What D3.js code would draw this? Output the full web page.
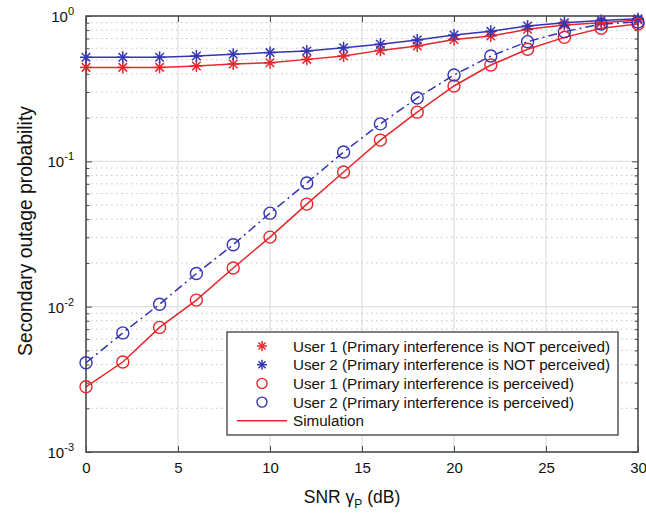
<!DOCTYPE html>
<html>
<head>
<meta charset="utf-8">
<script src="https://cdn.jsdelivr.net/npm/d3@7"></script>
<style>
  html, body { margin: 0; padding: 0; background: #fff; }
  svg { display: block; font-family: "Liberation Sans", Arial, sans-serif; }
</style>
</head>
<body>
<svg id="chart" width="646" height="513"></svg>
<script>
// SNR grid (dB)
const snr = [0, 2, 4, 6, 8, 10, 12, 14, 16, 18, 20, 22, 24, 26, 28, 30];

// Secondary outage probability per user / scenario
const user1NotPerceived = [0.443, 0.443, 0.443, 0.453, 0.468, 0.477, 0.503, 0.531, 0.58, 0.622, 0.69, 0.728, 0.81, 0.867, 0.90, 0.94];
const user2NotPerceived = [0.52, 0.52, 0.52, 0.53, 0.545, 0.56, 0.574, 0.605, 0.64, 0.684, 0.74, 0.785, 0.853, 0.90, 0.93, 0.958];
const user1Perceived = [0.00281, 0.00416, 0.0072, 0.0111, 0.01845, 0.0301, 0.0508, 0.0844, 0.140, 0.218, 0.33, 0.46, 0.59, 0.713, 0.823, 0.88];
const user2Perceived = [0.00411, 0.0066, 0.0104, 0.0169, 0.0267, 0.044, 0.071, 0.116, 0.181, 0.273, 0.393, 0.53, 0.666, 0.78, 0.88, 0.91];

const xTicks = [0, 5, 10, 15, 20, 25, 30];
const yDecades = [-3, -2, -1, 0];

const legendLabels = [
  "User 1 (Primary interference is NOT perceived)",
  "User 2 (Primary interference is NOT perceived)",
  "User 1 (Primary interference is perceived)",
  "User 2 (Primary interference is perceived)",
  "Simulation"
];

const RED = "#e8262b";
const BLUE = "#3434b4";

const svg = d3.select("#chart");
const margin = { left: 86, top: 16, right: 8, bottom: 61 };
const W = 646, H = 513;
const iw = W - margin.left - margin.right;
const ih = H - margin.top - margin.bottom;

const x = d3.scaleLinear().domain([0, 30]).range([0, iw]);
const y = d3.scaleLog().domain([1e-3, 1]).range([ih, 0]);

const g = svg.append("g").attr("transform", `translate(${margin.left},${margin.top})`);

// minor values inside each decade
const minors = [];
for (let e = -3; e < 0; e++) for (let k = 2; k <= 9; k++) minors.push(k * Math.pow(10, e));

// grid
const grid = g.append("g");
grid.selectAll(".vg").data(xTicks.slice(1, -1)).join("line")
  .attr("x1", d => x(d)).attr("x2", d => x(d)).attr("y1", 0).attr("y2", ih)
  .attr("stroke", "#d9d9d9").attr("stroke-width", 1);
grid.selectAll(".hm").data(minors).join("line")
  .attr("x1", 0).attr("x2", iw).attr("y1", d => y(d)).attr("y2", d => y(d))
  .attr("stroke", "#c4c4c4").attr("stroke-width", 1).attr("stroke-dasharray", "1.5,3.5");
grid.selectAll(".hM").data(yDecades.slice(1, -1)).join("line")
  .attr("x1", 0).attr("x2", iw).attr("y1", d => y(Math.pow(10, d))).attr("y2", d => y(Math.pow(10, d)))
  .attr("stroke", "#d9d9d9").attr("stroke-width", 1);

// axes (inner ticks on all four sides)
const axisColor = "#4a4a4a";
const axB = d3.axisBottom(x).tickValues(xTicks).tickSizeInner(-6).tickSizeOuter(0).tickPadding(10);
const axT = d3.axisTop(x).tickValues(xTicks).tickSizeInner(-6).tickSizeOuter(0).tickFormat("");
const yMajorVals = yDecades.map(e => Math.pow(10, e));
const axL = d3.axisLeft(y).tickValues(yMajorVals).tickSizeInner(-6).tickSizeOuter(0).tickFormat("");
const axR = d3.axisRight(y).tickValues(yMajorVals).tickSizeInner(-6).tickSizeOuter(0).tickFormat("");
const axLm = d3.axisLeft(y).tickValues(minors).tickSizeInner(-3.5).tickSizeOuter(0).tickFormat("");
const axRm = d3.axisRight(y).tickValues(minors).tickSizeInner(-3.5).tickSizeOuter(0).tickFormat("");

function style(sel) {
  sel.select(".domain").remove();
  sel.selectAll("line").attr("stroke", axisColor).attr("stroke-width", 1);
  sel.selectAll("text").attr("fill", "#111").attr("font-size", 15).attr("font-family", "Liberation Sans, Arial, sans-serif");
}
g.append("g").attr("transform", `translate(0,${ih})`).call(axB).call(style);
g.append("g").call(axT).call(style);
g.append("g").call(axL).call(style);
g.append("g").attr("transform", `translate(${iw},0)`).call(axR).call(style);
g.append("g").call(axLm).call(style);
g.append("g").attr("transform", `translate(${iw},0)`).call(axRm).call(style);

// box
g.append("rect").attr("x", 0).attr("y", 0).attr("width", iw).attr("height", ih)
  .attr("fill", "none").attr("stroke", axisColor).attr("stroke-width", 1.6);

// y tick labels with superscript exponents
const yl = g.append("g").selectAll("text").data(yDecades).join("text")
  .attr("x", -12).attr("y", d => y(Math.pow(10, d)) + 6)
  .attr("text-anchor", "end").attr("font-size", 15).attr("fill", "#111");
yl.append("tspan").text("10");
yl.append("tspan").attr("dy", -7).attr("font-size", 11).text(d => String(d));

// curves
const line = d3.line().x((d, i) => x(snr[i])).y(d => y(d));
const curves = [
  { data: user1NotPerceived, color: RED, dash: null },
  { data: user2NotPerceived, color: BLUE, dash: null },
  { data: user1Perceived, color: RED, dash: null },
  { data: user2Perceived, color: BLUE, dash: "9,4,2,4" }
];
g.append("g").selectAll("path").data(curves).join("path")
  .attr("d", d => line(d.data)).attr("fill", "none")
  .attr("stroke", d => d.color).attr("stroke-width", 1.5)
  .attr("stroke-dasharray", d => d.dash);

// asterisk marker
function star(sel, cx, cy, r, color) {
  const s = sel.append("g").attr("transform", `translate(${cx},${cy})`)
    .attr("stroke", color).attr("stroke-width", 1.5);
  [0, 45, 90, 135].forEach(a => {
    const t = a * Math.PI / 180;
    s.append("line").attr("x1", -r * Math.cos(t)).attr("y1", -r * Math.sin(t))
      .attr("x2", r * Math.cos(t)).attr("y2", r * Math.sin(t));
  });
}
const marks = g.append("g");
user1NotPerceived.forEach((v, i) => star(marks, x(snr[i]), y(v), 6, RED));
user2NotPerceived.forEach((v, i) => star(marks, x(snr[i]), y(v), 6, BLUE));
marks.selectAll(".c1").data(user1Perceived).join("circle")
  .attr("cx", (d, i) => x(snr[i])).attr("cy", d => y(d)).attr("r", 6)
  .attr("fill", "none").attr("stroke", RED).attr("stroke-width", 1.4);
marks.selectAll(".c2").data(user2Perceived).join("circle")
  .attr("cx", (d, i) => x(snr[i])).attr("cy", d => y(d)).attr("r", 6)
  .attr("fill", "none").attr("stroke", BLUE).attr("stroke-width", 1.4);

// legend
const lg = svg.append("g").attr("transform", "translate(227,332)");
lg.append("rect").attr("width", 391).attr("height", 103)
  .attr("fill", "#fff").attr("stroke", axisColor).attr("stroke-width", 1.4);
const rowY = i => 14 + i * 18.7;
legendLabels.forEach((t, i) => {
  lg.append("text").attr("x", 66).attr("y", rowY(i) + 5.5).attr("font-size", 15.2)
    .attr("fill", "#111").text(t);
});
star(lg, 35, rowY(0), 5, RED);
star(lg, 35, rowY(1), 5, BLUE);
lg.append("circle").attr("cx", 35).attr("cy", rowY(2)).attr("r", 5).attr("fill", "none").attr("stroke", RED).attr("stroke-width", 1.4);
lg.append("circle").attr("cx", 35).attr("cy", rowY(3)).attr("r", 5).attr("fill", "none").attr("stroke", BLUE).attr("stroke-width", 1.4);
lg.append("line").attr("x1", 10).attr("x2", 60).attr("y1", rowY(4)).attr("y2", rowY(4))
  .attr("stroke", RED).attr("stroke-width", 1.5);

// axis titles
const xt = svg.append("text").attr("x", margin.left + iw / 2 - 10).attr("y", 503)
  .attr("text-anchor", "middle").attr("font-size", 17.5).attr("fill", "#111");
xt.append("tspan").text("SNR \u03B3");
xt.append("tspan").attr("dy", 5).attr("font-size", 12).text("P");
xt.append("tspan").attr("dy", -5).text(" (dB)");

svg.append("text").attr("transform", `translate(32,231) rotate(-90)`)
  .attr("text-anchor", "middle").attr("font-size", 19.3).attr("fill", "#111")
  .text("Secondary outage probability");
</script>
</body>
</html>
